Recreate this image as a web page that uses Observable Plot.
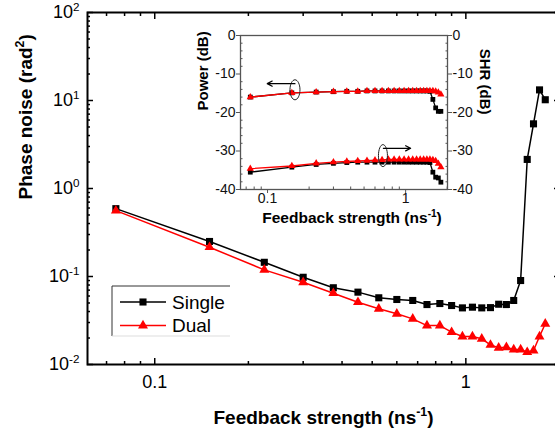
<!DOCTYPE html>
<html><head><meta charset="utf-8">
<script src="https://cdn.jsdelivr.net/npm/d3@7"></script>
<script src="https://cdn.jsdelivr.net/npm/@observablehq/plot@0.6"></script>
<style>
html,body{margin:0;padding:0;background:#fff;overflow:hidden;}
#wrap{position:relative;width:555px;height:433px;overflow:hidden;background:#fff;}
#main{position:absolute;left:0;top:0;}
#inset{position:absolute;left:185px;top:25px;}
</style></head><body><div id="wrap"><div id="main"></div><div id="inset"></div></div>
<script>
// ---------- data ----------
const feedback = [0.075,0.15,0.225,0.3,0.375,0.45,0.525,0.6,0.675,0.75,0.825,0.9,0.975,1.05,1.125,1.2,1.275,1.35,1.425,1.5,1.575,1.65,1.725,1.8];
const phaseSingle = [0.59,0.25,0.145,0.098,0.0745,0.0664,0.0573,0.0548,0.0534,0.048,0.0493,0.0468,0.044,0.0448,0.044,0.0443,0.0484,0.048,0.0534,0.090,2.14,5.43,13.2,10.2];
const phaseDual   = [0.56,0.215,0.119,0.086,0.0646,0.051,0.043,0.0377,0.033,0.0277,0.0277,0.0233,0.0208,0.0208,0.0196,0.0167,0.0155,0.0157,0.0148,0.0148,0.0138,0.0144,0.0208,0.029];
const powerSingle = [-16.0,-14.9,-14.7,-14.6,-14.5,-14.5,-14.4,-14.4,-14.4,-14.4,-14.4,-14.4,-14.4,-14.4,-14.4,-14.4,-14.4,-14.4,-14.4,-14.5,-16.6,-18.8,-19.7,-19.7];
const powerDual   = [-16.0,-14.9,-14.7,-14.6,-14.5,-14.5,-14.4,-14.4,-14.4,-14.4,-14.4,-14.4,-14.4,-14.4,-14.4,-14.4,-14.4,-14.4,-14.4,-14.4,-14.4,-14.5,-14.8,-15.3];
const shrSingle   = [-35.5,-34.2,-33.5,-33.2,-33.0,-32.9,-32.9,-32.9,-32.9,-32.9,-32.9,-32.9,-32.9,-32.9,-32.9,-32.9,-32.9,-32.9,-32.9,-33.0,-35.5,-36.8,-37.0,-38.1];
const shrDual     = [-34.6,-33.9,-33.2,-32.9,-32.7,-32.6,-32.5,-32.4,-32.3,-32.2,-32.2,-32.2,-32.2,-32.2,-32.2,-32.2,-32.2,-32.2,-32.2,-32.2,-32.3,-32.6,-33.3,-34.2];

const seriesNames = ["Single","Dual"];
const seriesColors = ["#000000","#ff0000"];

const xMajorTicks = [0.1, 1];
const xMinorTicks = [0.07,0.08,0.09,0.2,0.3,0.4,0.5,0.6,0.7,0.8,0.9,2];
const yMajorTicks = [0.01,0.1,1,10,100];
const yMinorTicks = [0.02,0.03,0.04,0.05,0.06,0.07,0.08,0.09,0.2,0.3,0.4,0.5,0.6,0.7,0.8,0.9,2,3,4,5,6,7,8,9,20,30,40,50,60,70,80,90];
const insetYTicks = [0,-10,-20,-30,-40];
const insetYMinor = [-2,-4,-6,-8,-12,-14,-16,-18,-22,-24,-26,-28,-32,-34,-36,-38];

const xTitle = "Feedback strength (ns^-1)";
const yTitle = "Phase noise (rad^2)";
const insetLeftTitle = "Power (dB)";
const insetRightTitle = "SHR (dB)";

// annotation ellipses / arrows of inset
const ellipseX = [0.158, 0.685];
const ellipseY = [-14.1, -31.2];
const arrowX1 = [0.158, 0.69];
const arrowX2 = [0.0995, 1.087];
const arrowY = [-12.5, -29.3];

// ---------- helpers ----------
const rows = ys => feedback.map((x, i) => ({x, y: ys[i]}));
const FONT = "'Liberation Sans', Arial, Helvetica, sans-serif";

function supify(svgNode){
  d3.select(svgNode).selectAll("text").each(function(){
    const t = this.textContent;
    if (!t || !t.includes("^")) return;
    const m = t.match(/^(.*?)\^(-?\d+)(.*)$/);
    if (!m) return;
    const sel = d3.select(this);
    sel.text(null);
    sel.append("tspan").text(m[1]);
    sel.append("tspan").attr("dy","-0.62em").attr("font-size","0.65em").text(m[2]);
    if (m[3]) sel.append("tspan").attr("dy","0.40em").text(m[3]);
  });
}

function ellipseSymbol(rx, ry){
  return {draw(ctx){
    const k = 0.5523;
    ctx.moveTo(rx,0);
    ctx.bezierCurveTo(rx,k*ry,k*rx,ry,0,ry);
    ctx.bezierCurveTo(-k*rx,ry,-rx,k*ry,-rx,0);
    ctx.bezierCurveTo(-rx,-k*ry,-k*rx,-ry,0,-ry);
    ctx.bezierCurveTo(k*rx,-ry,rx,-k*ry,rx,0);
    ctx.closePath();
  }};
}

const single = rows(phaseSingle), dual = rows(phaseDual);
const noText = () => "";
const pow10 = d => "10^" + Math.round(Math.log10(d));

// ---------- main plot ----------
const main = Plot.plot({
  width: 560, height: 433,
  marginLeft: 87, marginRight: 1, marginTop: 12, marginBottom: 69,
  style: {fontFamily: FONT, fontSize: "18px", color: "black", background: "white", maxWidth: "none", overflow: "visible"},
  x: {type: "log", domain: [0.0608, 2.0], label: null},
  y: {type: "log", domain: [0.01, 100], label: null},
  marks: [
    Plot.axisX(xMinorTicks, {anchor: "bottom", tickSize: -3, tickFormat: noText, strokeWidth: 1.5, label: null}),
    Plot.axisX(xMajorTicks, {anchor: "bottom", tickSize: -6, tickFormat: noText, strokeWidth: 1.5, label: null}),
    Plot.axisX(xMinorTicks, {anchor: "top", tickSize: -3, tickFormat: noText, strokeWidth: 1.5, label: null}),
    Plot.axisX(xMajorTicks, {anchor: "top", tickSize: -6, tickFormat: noText, strokeWidth: 1.5, label: null}),
    Plot.axisX(xMajorTicks, {anchor: "bottom", tickSize: 0, tickPadding: 11, tickFormat: d => String(d), fontSize: 18, label: null}),
    Plot.axisY(yMinorTicks, {anchor: "left", tickSize: -3, tickFormat: noText, strokeWidth: 1.5, label: null}),
    Plot.axisY(yMajorTicks, {anchor: "left", tickSize: -6, tickFormat: noText, strokeWidth: 1.5, label: null}),
    Plot.axisY(yMinorTicks, {anchor: "right", tickSize: -3, tickFormat: noText, strokeWidth: 1.5, label: null}),
    Plot.axisY(yMajorTicks, {anchor: "right", tickSize: -6, tickFormat: noText, strokeWidth: 1.5, label: null}),
    Plot.axisY(yMajorTicks, {anchor: "left", tickSize: 0, tickPadding: 8, tickFormat: pow10, fontSize: 18, label: null}),
    Plot.frame({stroke: "black", strokeWidth: 2}),
    Plot.line(single, {x: "x", y: "y", stroke: seriesColors[0], strokeWidth: 1.5}),
    Plot.dot(single, {x: "x", y: "y", symbol: "square", r: 4, fill: seriesColors[0], stroke: "none"}),
    Plot.line(dual, {x: "x", y: "y", stroke: seriesColors[1], strokeWidth: 1.5}),
    Plot.dot(dual, {x: "x", y: "y", symbol: "triangle", r: 3.7, fill: seriesColors[1], stroke: "none"}),
    Plot.text([xTitle], {frameAnchor: "bottom", dy: 53, fontWeight: "bold", fontSize: 19, lineAnchor: "middle"}),
    Plot.text([yTitle], {frameAnchor: "left", dx: -62, dy: 11, rotate: -90, fontWeight: "bold", fontSize: 19, lineAnchor: "middle"})
  ]
});
supify(main);

// legend
{
  const svg = d3.select(main);
  const g = svg.append("g").attr("font-family", FONT).attr("text-anchor", "start");
  const L = 112, T = 286, R = 230, B = 336;
  g.append("line").attr("x1", L).attr("y1", T).attr("x2", R).attr("y2", T).attr("stroke", "#333").attr("stroke-width", 1);
  g.append("line").attr("x1", L).attr("y1", T).attr("x2", L).attr("y2", B).attr("stroke", "#333").attr("stroke-width", 1);
  g.append("line").attr("x1", L).attr("y1", B).attr("x2", R).attr("y2", B).attr("stroke", "#ddd").attr("stroke-width", 1);
  const symbols = [d3.symbolSquare, d3.symbolTriangle];
  const sizes = [Math.PI * 16, Math.PI * 3.7 * 3.7];
  seriesNames.forEach((name, i) => {
    const cy = 302 + i * 23.5;
    g.append("line").attr("x1", 120).attr("x2", 166).attr("y1", cy).attr("y2", cy).attr("stroke", seriesColors[i]).attr("stroke-width", 1.5);
    g.append("path").attr("d", d3.symbol(symbols[i], sizes[i])()).attr("transform", `translate(143,${cy})`).attr("fill", seriesColors[i]);
    g.append("text").attr("x", 172).attr("y", cy).attr("dy", "0.35em").attr("text-anchor", "start").attr("font-size", 19).attr("fill", "black").text(name);
  });
}
document.getElementById("main").appendChild(main);

// ---------- inset ----------
const inset = Plot.plot({
  width: 315, height: 205,
  marginLeft: 55, marginRight: 53, marginTop: 10, marginBottom: 41,
  style: {fontFamily: FONT, fontSize: "14px", color: "black", background: "transparent", maxWidth: "none", overflow: "visible"},
  x: {type: "log", domain: [0.0637, 2.01], label: null},
  y: {domain: [-40, 0], label: null},
  marks: [
    Plot.frame({fill: "white", stroke: "none"}),
    Plot.axisX(xMinorTicks, {anchor: "bottom", tickSize: -2.5, tickFormat: noText, stroke: "#555", label: null}),
    Plot.axisX(xMajorTicks, {anchor: "bottom", tickSize: 4, tickFormat: noText, stroke: "#555", label: null}),
    Plot.axisX(xMajorTicks, {anchor: "bottom", tickSize: 0, tickPadding: 4, tickFormat: d => String(d), fill: "#111", label: null}),
    Plot.axisY(insetYMinor, {anchor: "left", tickSize: -2.5, tickFormat: noText, stroke: "#555", label: null}),
    Plot.axisY(insetYTicks, {anchor: "left", tickSize: 4, tickFormat: noText, stroke: "#555", label: null}),
    Plot.axisY(insetYTicks, {anchor: "left", tickSize: 0, tickPadding: 5, tickFormat: d => String(d), fill: "#111", label: null}),
    Plot.axisY(insetYMinor, {anchor: "right", tickSize: -2.5, tickFormat: noText, stroke: "#555", label: null}),
    Plot.axisY(insetYTicks, {anchor: "right", tickSize: 4, tickFormat: noText, stroke: "#555", label: null}),
    Plot.axisY(insetYTicks, {anchor: "right", tickSize: 0, tickPadding: 5, tickFormat: d => String(d), fill: "#111", label: null}),
    Plot.frame({stroke: "#555", strokeWidth: 1.3}),
    Plot.line(rows(powerSingle), {x: "x", y: "y", stroke: seriesColors[0], strokeWidth: 1.3}),
    Plot.dot(rows(powerSingle), {x: "x", y: "y", symbol: "square", r: 2.7, fill: seriesColors[0], stroke: "none"}),
    Plot.line(rows(shrSingle), {x: "x", y: "y", stroke: seriesColors[0], strokeWidth: 1.3}),
    Plot.dot(rows(shrSingle), {x: "x", y: "y", symbol: "square", r: 2.7, fill: seriesColors[0], stroke: "none"}),
    Plot.line(rows(powerDual), {x: "x", y: "y", stroke: seriesColors[1], strokeWidth: 1.3}),
    Plot.dot(rows(powerDual), {x: "x", y: "y", symbol: "triangle", r: 2.7, fill: seriesColors[1], stroke: "none"}),
    Plot.line(rows(shrDual), {x: "x", y: "y", stroke: seriesColors[1], strokeWidth: 1.3}),
    Plot.dot(rows(shrDual), {x: "x", y: "y", symbol: "triangle", r: 2.7, fill: seriesColors[1], stroke: "none"}),
    Plot.dot([0], {x: i => ellipseX[0], y: i => ellipseY[0], r: 5, symbol: ellipseSymbol(5, 10), fill: "none", stroke: "#222", strokeWidth: 1}),
    Plot.dot([1], {x: i => ellipseX[1], y: i => ellipseY[1], r: 5, symbol: ellipseSymbol(4.5, 11), fill: "none", stroke: "#222", strokeWidth: 1}),
    Plot.arrow([0, 1], {x1: i => arrowX1[i], x2: i => arrowX2[i], y1: i => arrowY[i], y2: i => arrowY[i], stroke: "black", strokeWidth: 1.2, headLength: 7, headAngle: 55}),
    Plot.text([xTitle], {frameAnchor: "bottom", dx: 8, dy: 29, fontWeight: "bold", fontSize: 15.5, lineAnchor: "middle"}),
    Plot.text([insetLeftTitle], {frameAnchor: "left", dx: -37, dy: -2, rotate: -90, fontWeight: "bold", fontSize: 15, lineAnchor: "middle"}),
    Plot.text([insetRightTitle], {frameAnchor: "right", dx: 37, dy: 2, rotate: 90, fontWeight: "bold", fontSize: 15, lineAnchor: "middle"})
  ]
});
supify(inset);
document.getElementById("inset").appendChild(inset);
</script>
</body></html>
